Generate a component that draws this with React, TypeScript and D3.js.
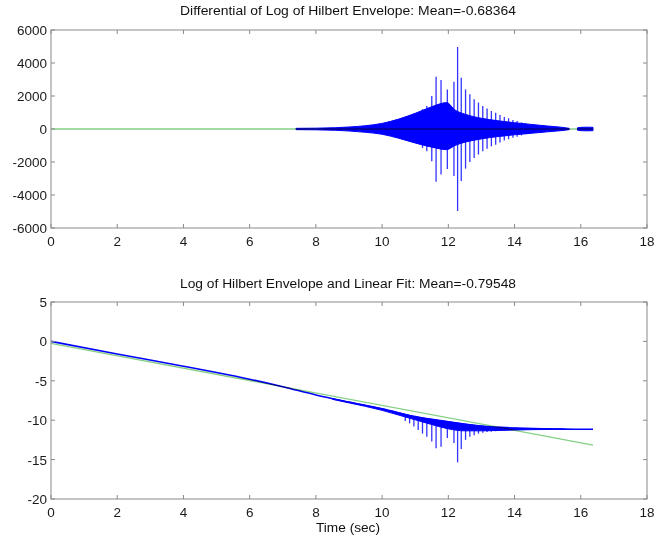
import React, { useRef, useEffect } from "react";
import * as d3 from "d3";

// axis ticks
const xTicks = [0, 2, 4, 6, 8, 10, 12, 14, 16, 18];
const diffTicks = [-6000, -4000, -2000, 0, 2000, 4000, 6000];
const logTicks = [-20, -15, -10, -5, 0, 5];

// top panel: dense part of the differential (upper / lower edge)
const coreT = [7.4, 8.0, 8.6, 9.0, 9.5, 10.0, 10.5, 11.0, 11.5, 11.95, 12.2, 12.5, 13.0, 13.5, 14.0, 14.5, 15.0, 15.4, 15.65];
const coreHigh = [40, 50, 80, 120, 200, 340, 600, 950, 1350, 1600, 1150, 900, 650, 500, 380, 280, 180, 110, 40];
const coreLow = [-40, -50, -80, -120, -200, -320, -560, -850, -1100, -1250, -1000, -800, -600, -460, -350, -260, -170, -100, -40];
const tailT = [15.9, 16.0, 16.2, 16.37];
const tailHigh = [70, 100, 110, 100];
const tailLow = [-70, -100, -110, -100];

// isolated oscillation peaks (shared time base for both panels)
const spikeT = [10.70, 10.83, 10.96, 11.09, 11.22, 11.35, 11.50, 11.63, 11.78, 11.97, 12.17, 12.28, 12.39, 12.52, 12.65, 12.78, 12.91, 13.04, 13.17, 13.30, 13.43, 13.56, 13.69, 13.82, 13.95, 14.08, 14.21, 14.34];
const diffHigh = [400, 520, 700, 900, 1200, 1400, 2000, 3170, 2970, 2400, 2870, 4970, 3110, 2400, 2100, 1800, 1600, 1400, 1250, 1090, 990, 850, 730, 650, 550, 490, 400, 330];
const diffLow = [-380, -500, -680, -880, -1150, -1350, -1950, -3190, -2750, -2420, -2850, -4970, -3150, -2400, -2000, -1750, -1550, -1350, -1200, -1050, -950, -820, -700, -620, -530, -470, -390, -320];
const logTop = [-9.3, -9.45, -9.6, -9.7, -9.8, -9.9, -10.0, -10.1, -10.15, -10.25, -10.35, -10.4, -10.45, -10.5, -10.6, -10.65, -10.7, -10.75, -10.8, -10.85, -10.9, -10.95, -10.95, -11.0, -11.0, -11.0, -11.05, -11.05];
const logLow = [-10.1, -10.4, -10.8, -11.25, -11.7, -12.1, -12.7, -13.57, -13.36, -12.26, -12.9, -15.35, -13.66, -12.5, -12.1, -11.9, -11.7, -11.6, -11.5, -11.45, -11.4, -11.35, -11.3, -11.25, -11.2, -11.2, -11.15, -11.15];

// bottom panel: log envelope trend and its dense band
const logT = [0, 2, 4, 5, 6, 7, 8, 9, 10, 11, 12, 13, 14, 15, 15.5, 16.37];
const logVal = [0, -1.6, -3.15, -3.95, -4.8, -5.75, -6.8, -7.7, -8.55, -9.55, -10.2, -10.75, -11.0, -11.1, -11.13, -11.15];
const bandT = [8.5, 9, 10, 10.5, 11, 11.5, 12, 12.5, 13, 13.5, 14, 14.5, 15, 15.5];
const bandTop = [-7.25, -7.7, -8.55, -9.05, -9.55, -9.9, -10.2, -10.5, -10.75, -10.95, -11.0, -11.05, -11.1, -11.12];
const bandLow = [-7.35, -7.8, -8.75, -9.35, -9.95, -10.55, -11.1, -11.35, -11.35, -11.3, -11.25, -11.2, -11.18, -11.16];

// green lines
const meanT = [0, 16.37];
const meanVal = [-0.68364, -0.68364];
const fitT = [0, 16.37];
const fitVal = [-0.24, -13.15];

const BLUE = "#0000ff";
const GREEN = "#84d084";
const FONT = "'Liberation Sans', Arial, sans-serif";

const App: React.FC = () => {
  const ref = useRef<SVGSVGElement | null>(null);

  useEffect(() => {
    const svg = d3.select(ref.current);
    svg.selectAll("*").remove();

    const left = 51;
    const right = 647;
    const x = d3.scaleLinear().domain([0, 18]).range([left, right]);

    const drawAxes = (
      y: d3.ScaleLinear<number, number>,
      yTicks: number[],
      top: number,
      bottom: number,
      title: string,
      titleY: number
    ) => {
      const g = svg.append("g").attr("font-family", FONT);
      const tl = 4;
      const axisColor = "#8a8a8a";
      // ticks on all sides
      xTicks.forEach((t) => {
        g.append("line").attr("x1", x(t)).attr("x2", x(t)).attr("y1", bottom).attr("y2", bottom - tl).attr("stroke", axisColor);
        g.append("line").attr("x1", x(t)).attr("x2", x(t)).attr("y1", top).attr("y2", top + tl).attr("stroke", axisColor);
        g.append("text").attr("x", x(t)).attr("y", bottom + 17.5).attr("text-anchor", "middle")
          .attr("font-size", 13.5).attr("fill", "#1a1a1a").text(t);
      });
      yTicks.forEach((t) => {
        g.append("line").attr("x1", left).attr("x2", left + tl).attr("y1", y(t)).attr("y2", y(t)).attr("stroke", axisColor);
        g.append("line").attr("x1", right).attr("x2", right - tl).attr("y1", y(t)).attr("y2", y(t)).attr("stroke", axisColor);
        g.append("text").attr("x", left - 4).attr("y", y(t) + 5).attr("text-anchor", "end")
          .attr("font-size", 13.5).attr("fill", "#1a1a1a").text(t);
      });
      g.append("rect").attr("x", left).attr("y", top).attr("width", right - left).attr("height", bottom - top)
        .attr("fill", "none").attr("stroke", axisColor).attr("stroke-width", 1);
      g.append("text").attr("x", 180).attr("y", titleY)
        .attr("textLength", 336).attr("lengthAdjust", "spacingAndGlyphs")
        .attr("font-size", 12.5).attr("fill", "#111").text(title);
    };

    // ---- top panel ----
    const y1 = d3.scaleLinear().domain([-6000, 6000]).range([228, 30]);
    const p1 = svg.append("g");

    const area1 = d3.area<number>()
      .x((d, i) => x(coreT[i]))
      .y0((d, i) => y1(coreLow[i]))
      .y1((d) => y1(d))
      .curve(d3.curveMonotoneX);
    p1.append("path").attr("d", area1(coreHigh)).attr("fill", BLUE).attr("stroke", BLUE).attr("stroke-width", 1);

    const areaTail = d3.area<number>()
      .x((d, i) => x(tailT[i]))
      .y0((d, i) => y1(tailLow[i]))
      .y1((d) => y1(d));
    p1.append("path").attr("d", areaTail(tailHigh)).attr("fill", BLUE).attr("stroke", BLUE).attr("stroke-width", 1);

    p1.selectAll("line.spike")
      .data(spikeT)
      .enter()
      .append("line")
      .attr("x1", (d) => x(d))
      .attr("x2", (d) => x(d))
      .attr("y1", (d, i) => y1(diffHigh[i]))
      .attr("y2", (d, i) => y1(diffLow[i]))
      .attr("stroke", BLUE)
      .attr("stroke-opacity", 0.8)
      .attr("stroke-width", 1.3);

    p1.append("path")
      .attr("d", d3.line<number>().x((d, i) => x(meanT[i])).y((d) => y1(d))(meanVal))
      .attr("fill", "none")
      .attr("stroke", GREEN)
      .attr("stroke-width", 1.5)
      .style("mix-blend-mode", "multiply");

    drawAxes(y1, diffTicks, 30, 228, "Differential of Log of Hilbert Envelope: Mean=-0.68364", 15);

    // ---- bottom panel ----
    const y2 = d3.scaleLinear().domain([-20, 5]).range([499, 302]);
    const p2 = svg.append("g");

    p2.append("path")
      .attr("d", d3.line<number>().x((d, i) => x(logT[i])).y((d) => y2(d)).curve(d3.curveMonotoneX)(logVal))
      .attr("fill", "none")
      .attr("stroke", BLUE)
      .attr("stroke-width", 1.6);

    const area2 = d3.area<number>()
      .x((d, i) => x(bandT[i]))
      .y0((d, i) => y2(bandLow[i]))
      .y1((d) => y2(d))
      .curve(d3.curveMonotoneX);
    p2.append("path").attr("d", area2(bandTop)).attr("fill", BLUE).attr("stroke", BLUE).attr("stroke-width", 1);

    p2.selectAll("line.dip")
      .data(spikeT)
      .enter()
      .append("line")
      .attr("x1", (d) => x(d))
      .attr("x2", (d) => x(d))
      .attr("y1", (d, i) => y2(logTop[i]))
      .attr("y2", (d, i) => y2(logLow[i]))
      .attr("stroke", BLUE)
      .attr("stroke-opacity", 0.8)
      .attr("stroke-width", 1.3);

    p2.append("path")
      .attr("d", d3.line<number>().x((d, i) => x(fitT[i])).y((d) => y2(d))(fitVal))
      .attr("fill", "none")
      .attr("stroke", GREEN)
      .attr("stroke-width", 1.3)
      .style("mix-blend-mode", "multiply");

    drawAxes(y2, logTicks, 302, 499, "Log of Hilbert Envelope and Linear Fit: Mean=-0.79548", 288);

    svg.append("text")
      .attr("x", 316)
      .attr("y", 532)
      .attr("textLength", 64)
      .attr("lengthAdjust", "spacingAndGlyphs")
      .attr("font-family", FONT)
      .attr("font-size", 12.5)
      .attr("fill", "#111")
      .text("Time (sec)");
  }, []);

  return (
    <svg
      ref={ref}
      width={656}
      height={541}
      style={{ position: "absolute", left: 0, top: 0, background: "#fff" }}
    ></svg>
  );
};

export default App;
